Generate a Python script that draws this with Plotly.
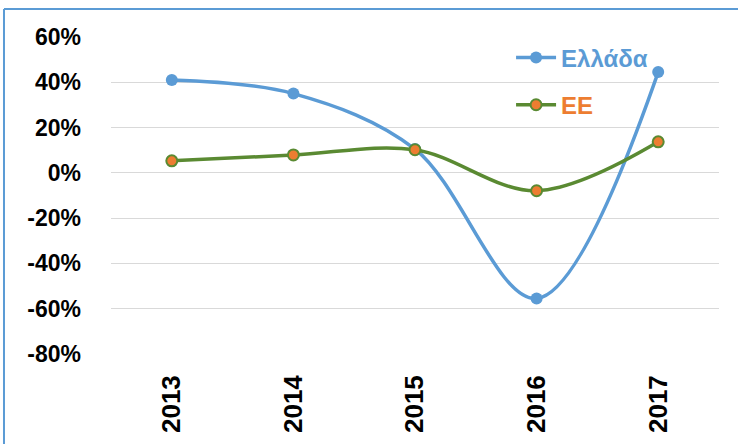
import plotly.graph_objects as go

years = ["2013", "2014", "2015", "2016", "2017"]
greece = [0.41, 0.35, 0.105, -0.555, 0.445]
eu = [0.053, 0.079, 0.102, -0.079, 0.137]
y_ticks = [0.6, 0.4, 0.2, 0.0, -0.2, -0.4, -0.6, -0.8]
y_tick_labels = ["60%", "40%", "20%", "0%", "-20%", "-40%", "-60%", "-80%"]

BLUE = "#5B9BD5"
GREEN = "#5A8A32"
ORANGE = "#ED7D31"
FONT = "Arial, Liberation Sans, sans-serif"

fig = go.Figure()
fig.add_trace(go.Scatter(
    x=years, y=greece, name="Ελλάδα", mode="lines+markers",
    line=dict(color=BLUE, width=3.5, shape="spline", smoothing=1.0),
    marker=dict(color=BLUE, size=12, line=dict(width=0)),
    legend="legend",
))
fig.add_trace(go.Scatter(
    x=years, y=eu, name="ΕΕ", mode="lines+markers",
    line=dict(color=GREEN, width=3.5, shape="spline", smoothing=1.0),
    marker=dict(color=ORANGE, size=11, line=dict(color=GREEN, width=2)),
    legend="legend2",
))

fig.update_layout(
    width=738, height=444,
    margin=dict(l=111, r=19, t=37, b=90),
    paper_bgcolor="white", plot_bgcolor="white",
    font=dict(family=FONT, size=20, color="black"),
    showlegend=True,
    legend=dict(x=0.658, y=0.934, xanchor="left", yanchor="middle",
                bgcolor="rgba(0,0,0,0)", itemwidth=40,
                font=dict(family=FONT, size=24, color=BLUE, weight="bold")),
    legend2=dict(x=0.658, y=0.785, xanchor="left", yanchor="middle",
                 bgcolor="rgba(0,0,0,0)", itemwidth=40,
                 font=dict(family=FONT, size=24, color=ORANGE, weight="bold")),
    shapes=[
        dict(type="line", xref="paper", yref="paper",
             x0=-0.176, x1=-0.176, y0=-0.4, y1=1.088,
             line=dict(color=BLUE, width=2)),
        dict(type="line", xref="paper", yref="paper",
             x0=-0.176, x1=1.2, y0=1.088, y1=1.088,
             line=dict(color=BLUE, width=2)),
    ],
)
fig.update_xaxes(
    type="category", range=[-0.5, 4.5], tickangle=-90,
    showgrid=False, showline=False, zeroline=False, ticks="",
    tickfont=dict(family=FONT, size=26, color="black", weight="bold"),
    ticklabelstandoff=15,
)
fig.update_yaxes(
    range=[-0.8, 0.6], tickvals=y_ticks, ticktext=y_tick_labels,
    showgrid=True, gridcolor="#D9D9D9", gridwidth=1,
    zeroline=False, showline=False, ticks="",
    tickfont=dict(family=FONT, size=23, color="black", weight="bold"),
    ticklabelstandoff=29,
)
fig.write_html("out.html", config={"displayModeBar": False},
               post_script="document.body.style.margin='0px';document.body.style.overflow='hidden';")
